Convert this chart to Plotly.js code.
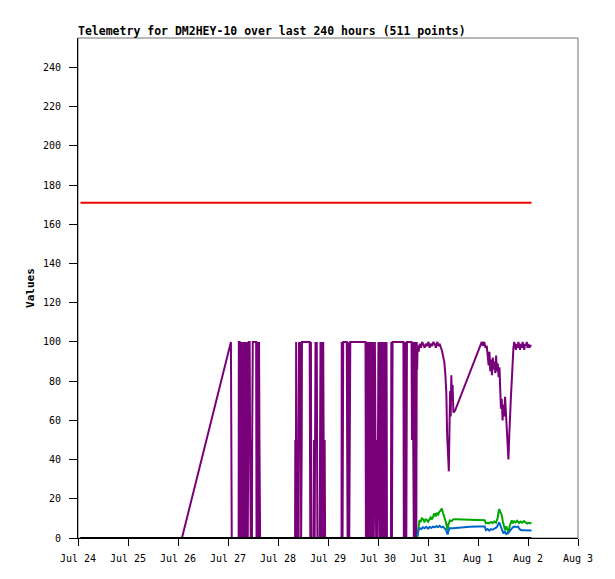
<!DOCTYPE html>
<html>
<head>
<meta charset="utf-8">
<script src="https://cdn.plot.ly/plotly-3.0.1.min.js"></script>
<style>
  html, body { margin: 0; padding: 0; background: #fff; }
  #plot { width: 615px; height: 579px; }
</style>
</head>
<body>
<div id="plot"></div>
<script>
// Datos: horas desde Jul 24 00:00 y valor medido
const START = Date.UTC(2024, 6, 24);

const redSeries = [[1.2, 171], [217.7, 171]];
const blackSeries = [[1.2, 0], [217.7, 0]];

const purpleSeries = [
  [1.2,0],[49.9,0],[73.4,100],[73.8,0],
  [77.1,0],[77.2,100],[77.6,100],[77.8,0],[78.0,50],[78.3,100],[78.6,0],[78.9,100],[79.2,0],[79.5,100],
  [79.8,0],[80.1,100],[80.4,0],[80.7,100],[81.0,0],[81.2,100],[81.5,0],[81.7,50],[82.0,100],[82.4,100],
  [82.6,50],[82.9,0],[83.2,50],[83.5,0],[83.6,50],[83.9,100],[85.5,100],[85.7,0],[86.0,50],[86.3,100],
  [86.6,0],[86.9,100],[87.1,50],[87.4,0],
  [104.2,0],[104.3,50],[104.6,0],[104.7,100],[105.0,50],[105.3,0],[105.6,50],[105.9,0],[106.1,100],
  [106.5,50],[106.8,100],[107.1,0],[107.4,50],[107.5,100],[111.2,100],[111.5,0],[111.8,100],[112.0,0],
  [113.1,0],[113.3,50],[113.6,0],[113.8,50],[114.0,100],[114.3,50],[114.6,100],[114.9,0],
  [116.0,0],[116.2,50],[116.4,100],[116.7,0],[116.9,50],[117.2,100],[117.5,0],[117.7,100],[117.9,50],
  [118.2,0],[118.4,50],[118.6,0],
  [126.5,0],[126.6,100],[127.0,0],[127.3,100],[129.0,100],[129.2,50],[129.4,0],[129.6,50],[129.9,100],
  [130.2,0],[130.4,50],[130.7,100],[138.0,100],
  [138.2,0],[138.5,100],[138.8,0],[139.1,100],[139.4,0],[139.7,100],[140.0,0],[140.3,100],[140.6,0],
  [140.9,100],[141.2,0],[141.5,100],[141.7,50],[142.0,0],[142.3,50],[142.5,100],[142.8,50],[143.1,0],
  [143.4,50],[143.7,0],[144.0,50],[144.2,100],[144.5,50],[144.8,0],[145.1,100],[145.4,0],[145.7,100],
  [146.0,0],[146.3,100],[146.6,0],[146.9,100],[147.2,0],[147.5,100],[147.8,0],[148.1,100],[148.3,0],
  [150.2,0],[150.4,100],[150.7,0],[151.0,100],[156.2,100],[156.4,0],[156.7,100],[157.0,0],[157.3,100],
  [157.6,0],[157.9,100],[160.1,100],[160.3,50],[160.6,100],[160.9,50],[161.2,0],[161.5,100],[161.8,0],
  [162.1,100],[162.4,0],[162.6,100],
  [162.8,86],[163.0,98],[163.5,95],[164.0,99],[164.6,97],[165.2,100],[165.8,98],[166.4,97],[167.0,99],
  [167.6,98],[168.2,100],[168.8,97],[169.4,99],[170.0,98],[170.6,100],[171.2,99],[171.8,97],[172.4,100],
  [173.0,98],[173.6,99],[174.2,97],[174.6,96],[175.2,93],[175.8,90],[176.3,84],[176.8,74],[177.2,52],
  [177.6,40],[178.0,34],[178.3,55],[178.6,75],[178.9,62],[179.2,83],[179.5,70],[179.8,78],[180.2,64],
  [181.0,65],[193.8,100],[194.4,98],[195.0,100],[195.6,97],[196.2,98],[196.7,93],[197.1,88],[197.5,95],
  [197.9,85],[198.3,91],[198.7,83],[199.1,92],[199.5,86],[199.9,90],[200.3,84],[200.7,93],[201.1,85],
  [201.5,89],[201.9,82],[202.3,87],[202.6,74],[203.0,66],[203.4,71],[203.8,60],[204.2,68],[204.6,62],
  [205.0,72],[205.4,63],[205.8,55],[206.2,46],[206.6,40],[207.0,52],[207.4,68],[207.8,72],[208.2,80],
  [208.6,90],[209.0,97],[209.4,100],[209.8,98],[210.2,96],[210.6,99],[211.0,97],[211.4,100],[211.8,98],
  [212.2,96],[212.6,99],[213.0,97],[213.4,100],[213.8,98],[214.2,96],[214.6,99],[215.0,98],[215.4,100],
  [215.8,97],[216.2,99],[216.6,97],[217.0,98],[217.7,98]
];

const greenSeries = [
  [162.9,0.7],[163.4,6],[163.9,9],[164.5,8.5],[165.1,10],[165.7,9.5],[166.3,8],[166.9,9.8],[167.5,9],
  [168.1,8.3],[168.7,9.5],[169.3,10.5],[169.9,9.5],[170.5,11],[171.1,12.5],[171.7,11],[172.3,12.8],
  [172.9,12],[173.5,13.5],[174.1,14],[174.6,15],[175.1,13],[175.6,11.5],[176.1,9],[176.6,8],[177.0,6],
  [177.4,4],[177.8,7],[178.2,8],[178.6,9],[179.4,8.6],[180.2,9.6],[181,9.6],[185,9.4],[189,9.3],
  [193,9.2],[195.2,9.1],[195.8,7.5],[196.6,7.8],[197.4,7.5],[198.2,8.2],[199.0,7.6],[199.8,8.4],
  [200.6,7.8],[201.4,10],[201.8,13],[202.2,14.8],[202.8,13],[203.4,11.7],[204.0,8],[204.5,6],[205.0,4],
  [205.6,6],[206.2,3],[206.6,2.7],[207.2,6],[207.8,8],[208.2,9],[208.8,7.5],[209.4,8.5],[210.0,8],
  [210.8,8.8],[211.6,7.6],[212.4,8.4],[213.2,7.8],[214.0,8.6],[214.8,8],[215.6,7.4],[216.4,7.8],[217.7,7.4]
];

const blueSeries = [
  [162.9,0.7],[163.4,4],[164.0,5],[164.8,4.6],[165.6,5.5],[166.4,5],[167.2,5.7],[168.0,4.8],[168.8,5.6],
  [169.6,5.2],[170.4,5.8],[171.2,5.4],[172.0,6],[172.8,5.6],[173.6,6.2],[174.4,5.4],[175.2,5.8],
  [176.0,4.8],[176.6,4.2],[177.0,3],[177.4,1.8],[177.8,3.5],[178.4,5],[180,5],[182,5.2],[184,5.6],
  [188,5.8],[192,5.9],[195.2,5.9],[195.8,4],[196.6,4.6],[197.4,3.8],[198.2,4.5],[199.0,4.2],[200.0,4.8],
  [201.0,5.5],[202.2,8],[203.0,6],[203.6,4],[204.2,2.3],[204.8,3.5],[205.6,2],[206.4,2.5],[207.2,3.8],
  [208.0,4.5],[208.8,5.5],[209.6,5.8],[210.4,5.6],[211.2,5.8],[212.0,4.5],[212.8,4],[214,4],[216,3.9],
  [217.7,3.8]
];

const xTickLabels = ['Jul 24','Jul 25','Jul 26','Jul 27','Jul 28','Jul 29','Jul 30','Jul 31','Aug 1','Aug 2','Aug 3'];
const yTicks = [0,20,40,60,80,100,120,140,160,180,200,220,240];

// Convertir horas en fechas
function toDate(h) {
  return new Date(START + h * 3600000).toISOString().slice(0, 19).replace('T', ' ');
}

function makeTrace(data, color) {
  return {
    type: 'scatter',
    mode: 'lines',
    x: data.map(d => toDate(d[0])),
    y: data.map(d => d[1]),
    line: { color: color, width: 2 },
    hoverinfo: 'skip',
    showlegend: false
  };
}

const traces = [
  makeTrace(redSeries, '#ee0000'),
  makeTrace(purpleSeries, '#780078'),
  makeTrace(greenSeries, '#00a800'),
  makeTrace(blueSeries, '#0066cc'),
  makeTrace(blackSeries, '#000000')
];

const tickVals = xTickLabels.map((_, i) => toDate(i * 24));
const mono = 'DejaVu Sans Mono, monospace';

const layout = {
  width: 615,
  height: 579,
  margin: { l: 78, r: 37, t: 38, b: 41 },
  paper_bgcolor: '#ffffff',
  plot_bgcolor: '#ffffff',
  title: {
    text: '<b>Telemetry for DM2HEY-10 over last 240 hours (511 points)</b>',
    font: { family: mono, size: 11.5, color: '#000' },
    xref: 'paper', x: 0, xanchor: 'left',
    yref: 'container', y: 0.946, yanchor: 'middle'
  },
  xaxis: {
    type: 'date',
    range: [toDate(0), toDate(240)],
    tickvals: tickVals,
    ticktext: xTickLabels,
    ticks: 'outside', ticklen: 7, tickcolor: '#000',
    ticklabelstandoff: 4,
    showline: true, linecolor: '#000', linewidth: 1,
    showgrid: false, zeroline: false,
    tickfont: { family: mono, size: 10, color: '#000' }
  },
  yaxis: {
    range: [0, 255],
    tickvals: yTicks,
    ticks: 'outside', ticklen: 8, tickcolor: '#000',
    ticklabelstandoff: 6,
    showline: true, linecolor: '#000', linewidth: 1,
    showgrid: false, zeroline: false,
    tickfont: { family: mono, size: 10, color: '#000' },
    title: { text: '<b>Values</b>', font: { family: mono, size: 11, color: '#000' }, standoff: 6 }
  },
  shapes: [{
    type: 'rect', xref: 'paper', yref: 'paper',
    x0: 0, x1: 1, y0: 0, y1: 1,
    line: { color: '#707070', width: 1 },
    layer: 'below'
  }]
};

Plotly.newPlot('plot', traces, layout, { staticPlot: true, displayModeBar: false });
</script>
</body>
</html>
